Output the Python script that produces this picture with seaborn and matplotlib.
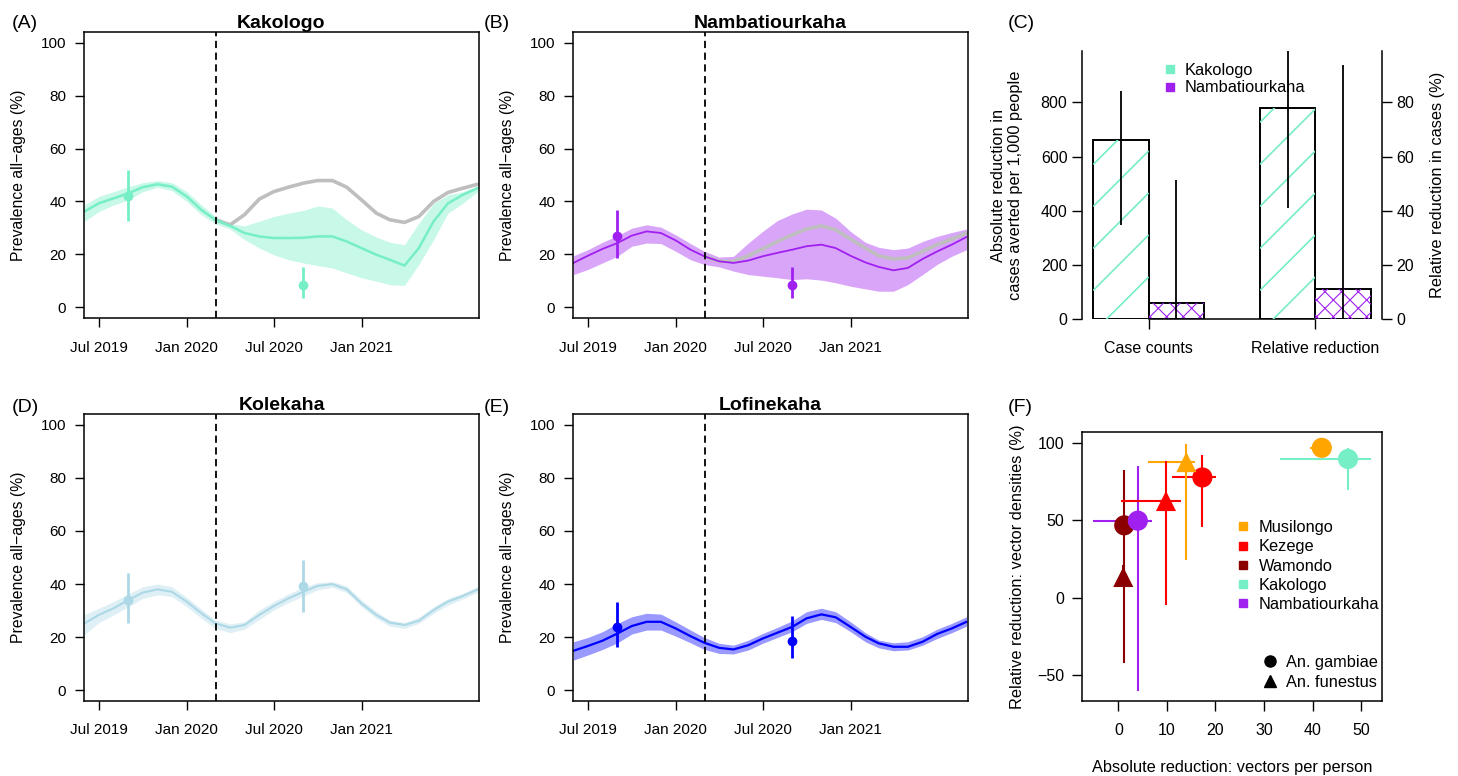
import numpy as np
import pandas as pd
import matplotlib
matplotlib.use("Agg")
import matplotlib.pyplot as plt
import seaborn as sns
from matplotlib.collections import LineCollection
from matplotlib.transforms import IdentityTransform
from matplotlib.lines import Line2D
from matplotlib.patches import Rectangle

W, H = 1458, 776

# ---------------- data: prevalence time series (A, B, D, E) ----------------
MONTHS = pd.date_range("2019-06-01", "2021-09-01", freq="MS")
CF_MONTHS = pd.date_range("2020-03-01", "2021-09-01", freq="MS")
SURVEY_DATES = pd.to_datetime(["2019-09-01", "2020-09-01"])
INTERVENTION = pd.Timestamp("2020-03-02")
TIME_TICKS = pd.to_datetime(["2019-07-01", "2020-01-01", "2020-07-01", "2021-01-01"])

KAK_MED = [36.2, 39.3, 41.2, 43.1, 45.4, 46.5, 45.6, 41.9, 36.8, 33.1, 30.8, 28.1, 26.8, 26.2,
           26.2, 26.3, 26.8, 26.8, 24.9, 22.4, 19.9, 18.0, 15.8, 22.4, 32.5, 39.3, 42.5, 45.0]
KAK_HI = [38.7, 41.9, 43.7, 45.6, 47.1, 47.9, 47.1, 43.7, 38.7, 34.3, 31.6, 30.8, 32.5, 34.3,
          35.6, 36.6, 38.3, 37.5, 33.1, 29.3, 26.6, 24.6, 23.7, 31.8, 39.3, 42.5, 43.7, 45.9]
KAK_LO = [32.5, 36.2, 38.7, 40.6, 43.7, 45.4, 44.1, 40.0, 35.0, 31.6, 29.6, 25.6, 22.4, 19.9,
          18.0, 16.8, 15.8, 14.9, 13.0, 11.2, 9.9, 8.6, 8.3, 16.2, 25.6, 35.6, 39.3, 43.7]
KAK_CF = [33.1, 31.2, 35.0, 40.9, 43.7, 45.4, 46.9, 47.9, 47.9, 45.4, 40.6, 35.6, 33.1, 32.1,
          34.3, 40.0, 43.4, 45.0, 46.5]
KAK_OBS, KAK_OBS_LO, KAK_OBS_HI = [41.9, 8.4], [32.5, 3.6], [51.9, 15.3]

NAM_MED = [16.8, 19.5, 22.1, 24.3, 27.1, 28.7, 28.1, 25.3, 21.8, 19.3, 17.4, 16.8, 17.7, 19.3,
           20.6, 21.8, 23.1, 23.7, 22.4, 19.5, 17.0, 15.3, 14.0, 14.9, 18.3, 21.1, 23.7, 26.6]
NAM_HI = [19.5, 21.8, 24.6, 27.1, 29.9, 31.2, 30.3, 27.4, 24.1, 21.2, 19.0, 19.3, 24.3, 28.7,
          32.8, 35.3, 37.1, 36.8, 33.7, 28.7, 24.6, 22.7, 21.8, 22.4, 24.9, 26.8, 28.3, 29.6]
NAM_LO = [12.4, 14.3, 16.8, 19.3, 23.1, 24.3, 24.1, 21.2, 18.0, 16.2, 15.3, 13.7, 12.4, 11.8,
          11.2, 10.5, 10.8, 10.3, 9.3, 8.0, 7.0, 6.1, 6.1, 8.6, 12.4, 16.2, 19.3, 21.8]
NAM_CF = [19.3, 17.4, 17.4, 19.5, 22.1, 24.9, 27.4, 29.6, 30.8, 29.3, 25.8, 22.4, 19.5, 18.3,
          18.7, 21.2, 23.7, 25.8, 28.1]
NAM_OBS, NAM_OBS_LO, NAM_OBS_HI = [26.8, 8.4], [18.7, 3.6], [36.6, 15.3]

KOL_MED = [25.2, 28.4, 30.9, 34.0, 36.8, 38.0, 37.1, 33.4, 29.0, 25.2, 23.6, 24.6, 28.4, 31.7,
           34.6, 37.1, 39.3, 40.0, 38.0, 32.7, 28.4, 25.5, 24.6, 26.2, 30.2, 33.4, 35.5, 38.0]
KOL_HI = [28.5, 30.9, 33.4, 36.3, 39.0, 40.0, 39.0, 35.0, 30.5, 26.5, 25.0, 25.8, 30.2, 33.4,
          36.3, 38.8, 40.5, 40.9, 39.3, 34.0, 29.6, 26.5, 25.5, 27.5, 31.5, 34.6, 36.5, 39.0]
KOL_LO = [21.0, 25.5, 28.4, 31.5, 34.6, 35.9, 35.3, 31.5, 27.1, 23.3, 21.7, 23.0, 26.7, 30.2,
          33.0, 35.5, 37.8, 38.8, 36.8, 31.5, 27.1, 24.2, 23.3, 25.2, 29.0, 32.1, 34.4, 36.9]
KOL_OBS, KOL_OBS_LO, KOL_OBS_HI = [34.0, 39.3], [25.2, 29.6], [44.0, 49.0]

LOF_MED = [14.9, 16.7, 18.7, 21.4, 24.2, 25.8, 25.8, 23.3, 20.4, 17.9, 16.0, 15.4, 17.0, 19.5,
           21.7, 23.9, 27.1, 28.6, 27.5, 23.9, 20.2, 17.7, 16.4, 16.4, 18.3, 21.2, 23.3, 25.8]
LOF_HI = [18.3, 19.9, 22.1, 25.2, 27.7, 29.0, 28.7, 25.8, 22.7, 19.9, 17.7, 17.0, 18.9, 21.4,
          23.7, 26.2, 29.6, 30.9, 29.6, 25.8, 21.7, 18.9, 17.9, 18.3, 20.2, 23.0, 25.2, 27.7]
LOF_LO = [11.4, 13.3, 15.4, 17.9, 21.2, 22.7, 22.7, 20.4, 17.9, 15.4, 13.9, 13.7, 15.2, 17.7,
          19.9, 22.1, 25.2, 26.7, 25.5, 22.1, 18.3, 16.0, 14.9, 15.2, 17.0, 19.5, 21.7, 24.2]
LOF_OBS, LOF_OBS_LO, LOF_OBS_HI = [24.0, 18.5], [16.4, 12.3], [33.4, 28.0]

# ---------------- data: panel C ----------------
C_MEASURES = ["Case counts", "Relative reduction"]
C_SITES = ["Kakologo", "Nambatiourkaha"]
CASES_AVERTED = [660, 60]
CASES_LO = [348, 0]
CASES_HI = [841, 514]
REL_REDUCTION = [78, 11]
REL_LO = [41, 0]
REL_HI = [99, 94]

# ---------------- data: panel F ----------------
F_SITES = ["Musilongo", "Kezege", "Wamondo", "Kakologo", "Nambatiourkaha"]
VEC_SITE = ["Musilongo", "Kezege", "Wamondo", "Kakologo", "Nambatiourkaha",
            "Musilongo", "Kezege", "Wamondo"]
VEC_SPECIES = ["An. gambiae"] * 5 + ["An. funestus"] * 3
VEC_ABS = [41.9, 17.3, 1.2, 47.3, 4.0, 14.0, 9.8, 1.0]
VEC_ABS_LO = [39.5, 11.1, -0.7, 33.2, -5.3, 6.0, 0.5, 0.3]
VEC_ABS_HI = [43.0, 20.1, 2.7, 52.0, 6.9, 15.7, 12.9, 1.8]
VEC_REL = [96.8, 77.7, 46.8, 89.6, 49.8, 87.6, 62.5, 13.5]
VEC_REL_LO = [95.5, 45.7, -42.3, 69.4, -60.0, 24.3, -4.3, 7.0]
VEC_REL_HI = [98.0, 92.0, 82.3, 96.6, 85.0, 99.0, 88.0, 21.0]

COLORS = {"Musilongo": "#FFA500", "Kezege": "#FF0000", "Wamondo": "#8B0000",
          "Kakologo": "#76EEC6", "Nambatiourkaha": "#A020F0",
          "Kolekaha": "#ADD8E6", "Lofinekaha": "#0000FF"}
GREY = "#BEBEBE"

sns.set_style("ticks", {"axes.edgecolor": "black", "text.color": "black",
                        "xtick.color": "black", "ytick.color": "black",
                        "axes.labelcolor": "black"})
plt.rcParams["font.family"] = ["Liberation Sans", "DejaVu Sans"]
plt.rcParams["hatch.linewidth"] = 0.8


def px_rect(left, top, right, bottom):
    return [left / W, 1 - bottom / H, (right - left) / W, (bottom - top) / H]


def prevalence_panel(ax, title, color, med, lo, hi, obs, obs_lo, obs_hi, cf=None, lw=1.5):
    ax.fill_between(MONTHS, lo, hi, color=color, alpha=0.4, lw=0)
    if cf is not None:
        sns.lineplot(x=CF_MONTHS, y=cf, ax=ax, color=GREY, lw=2.6)
    sns.lineplot(x=MONTHS, y=med, ax=ax, color=color, lw=lw)
    yerr = [np.subtract(obs, obs_lo), np.subtract(obs_hi, obs)]
    ax.errorbar(SURVEY_DATES, obs, yerr=yerr, fmt="o", color=color, ms=6,
                elinewidth=2, capsize=0, zorder=4)
    ax.axvline(INTERVENTION, color="black", lw=1.3, ls=(0, (4, 2.5)))

    ax.set_xlim(pd.Timestamp("2019-05-31"), pd.Timestamp("2021-09-04"))
    ax.set_ylim(-4, 104)
    ax.set_yticks(range(0, 101, 20))
    ax.set_xticks(TIME_TICKS)
    ax.set_xticklabels([d.strftime("%b %Y") for d in TIME_TICKS])
    ax.set_xlabel("")
    ax.set_ylabel("Prevalence all\u2212ages (%)", fontsize=11.3)
    ax.yaxis.set_label_coords(-0.148, 0.5)
    ax.set_title(title, fontsize=14, fontweight="bold", pad=2)
    for s in ax.spines.values():
        s.set_visible(True)
        s.set_linewidth(1.1)
    ax.tick_params(direction="out", length=6.7, width=1.0, labelsize=11)
    ax.tick_params(axis="x", pad=9.5)
    ax.tick_params(axis="y", pad=6)


def diag_hatch(ax, patch, color, step=42, lw=1.2):
    bb = patch.get_window_extent()
    ks = np.arange(bb.y0 - bb.x1, bb.y1 - bb.x0 + step, step)
    segs = [[(bb.x0, bb.x0 + k), (bb.x1, bb.x1 + k)] for k in ks]
    lc = LineCollection(segs, colors=color, linewidths=lw,
                        transform=IdentityTransform(), zorder=patch.get_zorder() + 0.1)
    ax.add_collection(lc, autolim=False)
    # clip after adding, otherwise add_collection resets it to the axes patch
    lc.set_clip_path(patch)


fig = plt.figure(figsize=(W / 100, H / 100), dpi=100)

axA = fig.add_axes(px_rect(84, 32, 479, 318))
prevalence_panel(axA, "Kakologo", COLORS["Kakologo"], KAK_MED, KAK_LO, KAK_HI,
                 KAK_OBS, KAK_OBS_LO, KAK_OBS_HI, cf=KAK_CF, lw=1.8)
axB = fig.add_axes(px_rect(573, 32, 968, 318))
prevalence_panel(axB, "Nambatiourkaha", COLORS["Nambatiourkaha"], NAM_MED, NAM_LO, NAM_HI,
                 NAM_OBS, NAM_OBS_LO, NAM_OBS_HI, cf=NAM_CF, lw=1.3)
axD = fig.add_axes(px_rect(84, 414, 479, 701))
prevalence_panel(axD, "Kolekaha", COLORS["Kolekaha"], KOL_MED, KOL_LO, KOL_HI,
                 KOL_OBS, KOL_OBS_LO, KOL_OBS_HI, lw=1.5)
axE = fig.add_axes(px_rect(573, 414, 968, 701))
prevalence_panel(axE, "Lofinekaha", COLORS["Lofinekaha"], LOF_MED, LOF_LO, LOF_HI,
                 LOF_OBS, LOF_OBS_LO, LOF_OBS_HI, lw=1.6)

# ---------------- panel C ----------------
axC = fig.add_axes(px_rect(1082, 51, 1382, 319))
axC2 = axC.twinx()
df_cases = pd.DataFrame({"measure": C_MEASURES[0], "site": C_SITES, "value": CASES_AVERTED})
df_rel = pd.DataFrame({"measure": C_MEASURES[1], "site": C_SITES, "value": REL_REDUCTION})
white = {s: "white" for s in C_SITES}
for ax, df in [(axC, df_cases), (axC2, df_rel)]:
    sns.barplot(data=df, x="measure", y="value", hue="site", order=C_MEASURES,
                hue_order=C_SITES, palette=white, saturation=1, edgecolor="black",
                linewidth=1.4, width=0.665, errorbar=None, legend=False, ax=ax)
axC.set_xlim(-0.4, 1.4)
axC.set_ylim(0, 990)
axC2.set_ylim(0, 99)
axC.set_yticks(range(0, 801, 200))
axC2.set_yticks(range(0, 81, 20))
axC.set_xlabel("")
axC.set_ylabel("Absolute reduction in\ncases averted per 1,000 people", fontsize=11.8,
               linespacing=1.15)
axC.yaxis.set_label_coords(-0.197, 0.5)
axC2.set_ylabel("Relative reduction in cases (%)", fontsize=11.8)
axC2.yaxis.set_label_coords(1.16, 0.5)
for s in ["top", "right"]:
    axC.spines[s].set_visible(False)
for s in ["top", "left", "bottom"]:
    axC2.spines[s].set_visible(False)
axC.spines["bottom"].set_bounds(0, 1)
for ax in (axC, axC2):
    for s in ax.spines.values():
        s.set_linewidth(1.1)
    ax.tick_params(direction="out", length=7, width=1.0, labelsize=11.5)
axC.tick_params(axis="x", pad=9)

for ax, lo_vals, hi_vals in [(axC, CASES_LO, CASES_HI), (axC2, REL_LO, REL_HI)]:
    for container, site, lo_v, hi_v in zip(ax.containers, C_SITES, lo_vals, hi_vals):
        for p in container:
            xc = p.get_x() + p.get_width() / 2
            ax.vlines(xc, lo_v, hi_v, color="black", lw=1.3, zorder=5)
            if site == "Nambatiourkaha":
                hp = Rectangle((p.get_x(), p.get_y()), p.get_width(), p.get_height(),
                               fill=False, hatch="xx", edgecolor=COLORS[site], lw=0,
                               zorder=p.get_zorder() + 0.1)
                ax.add_patch(hp)
            else:
                diag_hatch(ax, p, COLORS[site])

c_handles = [Line2D([], [], marker="s", ls="", color=COLORS[s], ms=6) for s in C_SITES]
fig.legend(c_handles, C_SITES, loc="upper left", bbox_to_anchor=(1162 / W, 1 - 63 / H),
           frameon=False, fontsize=11.8, handlelength=1.0, handletextpad=0.4,
           borderpad=0, borderaxespad=0, labelspacing=0.15)

# ---------------- panel F ----------------
axF = fig.add_axes(px_rect(1082, 432, 1382, 701))
df_vec = pd.DataFrame({"site": VEC_SITE, "species": VEC_SPECIES, "abs": VEC_ABS,
                       "rel": VEC_REL})
for i in range(len(VEC_SITE)):
    c = COLORS[VEC_SITE[i]]
    axF.hlines(VEC_REL[i], VEC_ABS_LO[i], VEC_ABS_HI[i], color=c, lw=1.5, zorder=2)
    axF.vlines(VEC_ABS[i], VEC_REL_LO[i], VEC_REL_HI[i], color=c, lw=1.5, zorder=2)
sns.scatterplot(data=df_vec, x="abs", y="rel", hue="site", style="species",
                hue_order=F_SITES, palette=COLORS,
                markers={"An. gambiae": "o", "An. funestus": "^"},
                s=210, linewidth=0, legend=False, zorder=3, ax=axF)
axF.set_xlim(-7.5, 54.3)
axF.set_ylim(-66.5, 107)
axF.set_xticks(range(0, 51, 10))
axF.set_yticks([-50, 0, 50, 100])
axF.set_xlabel("Absolute reduction: vectors per person", fontsize=11.8)
axF.xaxis.set_label_coords(0.5, -0.22)
axF.set_ylabel("Relative reduction: vector densities (%)", fontsize=11.8)
axF.yaxis.set_label_coords(-0.19, 0.5)
for s in axF.spines.values():
    s.set_visible(True)
    s.set_linewidth(1.1)
axF.tick_params(direction="out", length=7, width=1.0, labelsize=11.5)
axF.tick_params(axis="x", pad=9)
axF.tick_params(axis="y", pad=6)

f_handles = [Line2D([], [], marker="s", ls="", color=COLORS[s], ms=6) for s in F_SITES]
fig.legend(f_handles, F_SITES, loc="upper left", bbox_to_anchor=(1235 / W, 1 - 520 / H),
           frameon=False, fontsize=11.8, handlelength=1.0, handletextpad=0.45,
           borderpad=0, borderaxespad=0, labelspacing=0.26)
sp_handles = [Line2D([], [], marker="o", ls="", color="black", ms=8),
              Line2D([], [], marker="^", ls="", color="black", ms=8)]
fig.legend(sp_handles, ["An. gambiae", "An. funestus"], loc="upper left",
           bbox_to_anchor=(1262 / W, 1 - 655 / H), frameon=False, fontsize=11.8,
           handlelength=1.0, handletextpad=0.45, borderpad=0, borderaxespad=0,
           labelspacing=0.3)

# panel letters
for letter, (x, y) in {"(A)": (12, 23), "(B)": (484, 23), "(C)": (1008, 24),
                       "(D)": (12, 407), "(E)": (484, 407), "(F)": (1008, 408)}.items():
    fig.text(x / W, 1 - y / H, letter, fontsize=14, ha="left", va="center")

fig.savefig("out.png", dpi=100)
